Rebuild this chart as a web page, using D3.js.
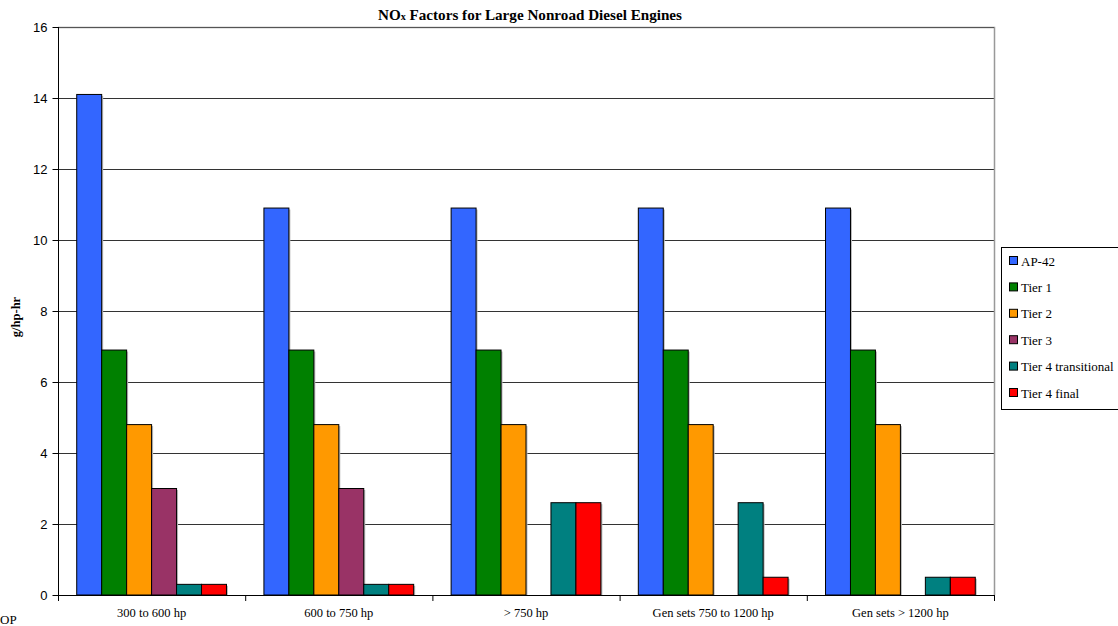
<!DOCTYPE html>
<html>
<head>
<meta charset="utf-8">
<script src="https://cdn.jsdelivr.net/npm/d3@7"></script>
<style>
  body { margin: 0; background: #fff; }
  svg { display: block; }
</style>
</head>
<body>
<svg id="chart" width="1118" height="626"></svg>
<script>
// Engine size classes along the x axis
const categories = ["300 to 600 hp", "600 to 750 hp", "> 750 hp", "Gen sets 750 to 1200 hp", "Gen sets > 1200 hp"];
// Emission standard series (null = no standard for that class)
const seriesNames = ["AP-42", "Tier 1", "Tier 2", "Tier 3", "Tier 4 transitional", "Tier 4 final"];
const ap42      = [14.1, 10.9, 10.9, 10.9, 10.9];
const tier1     = [6.9, 6.9, 6.9, 6.9, 6.9];
const tier2     = [4.8, 4.8, 4.8, 4.8, 4.8];
const tier3     = [3.0, 3.0, null, null, null];
const tier4t    = [0.3, 0.3, 2.6, 2.6, 0.5];
const tier4f    = [0.3, 0.3, 2.6, 0.5, 0.5];
const yTicks    = [0, 2, 4, 6, 8, 10, 12, 14, 16];
const colors    = ["#3366FF", "#008000", "#FF9900", "#993366", "#008080", "#FF0000"];

const seriesValues = [ap42, tier1, tier2, tier3, tier4t, tier4f];

const svg = d3.select("#chart");
const plot = { left: 58, right: 994, top: 27, bottom: 595 };
const serif = "'Times New Roman', 'Liberation Serif', serif";

const x = d3.scaleBand().domain(categories).range([plot.left, plot.right]);
// Excel-style gap: 150% of one bar width split either side of the group
const barW = x.bandwidth() / 7.5;
const xInner = d3.scaleBand().domain(seriesNames)
  .range([barW * 0.75, x.bandwidth() - barW * 0.75]);

const y = d3.scaleLinear().domain([0, 16]).range([plot.bottom, plot.top]);

// Horizontal gridlines
svg.append("g")
  .selectAll("line")
  .data(yTicks.filter(d => d > 0 && d < 16))
  .join("line")
  .attr("x1", plot.left).attr("x2", plot.right)
  .attr("y1", d => y(d) + 0.5).attr("y2", d => y(d) + 0.5)
  .attr("stroke", "#333").attr("stroke-width", 1);

// Plot frame top and right
svg.append("path")
  .attr("d", `M${plot.left},${plot.top + 0.5}H${plot.right + 0.5}V${plot.bottom}`)
  .attr("fill", "none").attr("stroke", "#999").attr("stroke-width", 1.5);
svg.append("line")
  .attr("x1", plot.left).attr("x2", plot.right)
  .attr("y1", plot.top + 0.5).attr("y2", plot.top + 0.5)
  .attr("stroke", "#555").attr("stroke-width", 1);

// Bars
const groups = svg.append("g").selectAll("g")
  .data(categories)
  .join("g")
  .attr("transform", d => `translate(${x(d)},0)`);

groups.each(function(cat, ci) {
  const data = seriesNames.map((s, si) => ({ s, si, v: seriesValues[si][ci] }))
    .filter(d => d.v != null);
  const g = d3.select(this);
  // soft shadow
  g.selectAll("rect.shadow").data(data).join("rect")
    .attr("class", "shadow")
    .attr("x", d => xInner(d.s) + 1.5)
    .attr("y", d => y(d.v) + 1.5)
    .attr("width", xInner.bandwidth())
    .attr("height", d => y(0) - y(d.v) - 1.5)
    .attr("fill", "#bbb");
  g.selectAll("rect.bar").data(data).join("rect")
    .attr("class", "bar")
    .attr("x", d => xInner(d.s))
    .attr("y", d => y(d.v))
    .attr("width", xInner.bandwidth())
    .attr("height", d => y(0) - y(d.v))
    .attr("fill", d => colors[d.si])
    .attr("stroke", "#000").attr("stroke-width", 1);
});

// Y axis
const yAxis = svg.append("g")
  .attr("transform", `translate(${plot.left + 0.5},0)`)
  .call(d3.axisLeft(y).tickValues(yTicks).tickSize(6).tickPadding(5).tickFormat(d3.format("d")));
yAxis.select(".domain").attr("stroke", "#000").attr("d", `M0,${plot.top}V${plot.bottom}`);
yAxis.selectAll(".tick line").attr("stroke", "#000");
yAxis.selectAll("text")
  .attr("font-family", "Arial, 'Liberation Sans', sans-serif")
  .attr("font-size", 13).attr("fill", "#000");

// X axis
const xAxis = svg.append("g")
  .attr("transform", `translate(0,${plot.bottom + 0.5})`)
  .call(d3.axisBottom(x).tickSize(0).tickPadding(13));
xAxis.select(".domain").attr("stroke", "#000").attr("d", `M${plot.left},0H${plot.right}`);
xAxis.selectAll("text")
  .attr("font-family", serif)
  .attr("font-size", 12.5).attr("fill", "#000");
// category boundary ticks
svg.append("g").selectAll("line")
  .data(categories.concat(["__end"]))
  .join("line")
  .attr("x1", d => (d === "__end" ? plot.right : x(d)) + 0.5)
  .attr("x2", d => (d === "__end" ? plot.right : x(d)) + 0.5)
  .attr("y1", plot.bottom).attr("y2", plot.bottom + 6)
  .attr("stroke", "#000");

// Y axis title
svg.append("text")
  .attr("transform", `translate(20,${(plot.top + plot.bottom) / 2 + 6}) rotate(-90)`)
  .attr("text-anchor", "middle")
  .attr("font-family", serif)
  .attr("font-weight", "bold").attr("font-size", 12.5)
  .text("g/hp-hr");

// Chart title
const title = svg.append("text")
  .attr("x", 378).attr("y", 20)
  .attr("font-family", serif)
  .attr("font-weight", "bold").attr("font-size", 15)
  .attr("textLength", 304).attr("lengthAdjust", "spacingAndGlyphs");
title.append("tspan").text("NO");
title.append("tspan").attr("font-size", 10).text("x");
title.append("tspan").text(" Factors for Large Nonroad Diesel Engines");

// Legend
const legend = svg.append("g").attr("transform", "translate(1001,247)");
legend.append("rect")
  .attr("x", 0.5).attr("y", 0.5).attr("width", 125).attr("height", 162)
  .attr("fill", "#fff").attr("stroke", "#000");
const items = legend.selectAll("g.item").data(seriesNames).join("g")
  .attr("class", "item")
  .attr("transform", (d, i) => `translate(8,${14 + i * 26.4})`);
items.append("rect")
  .attr("x", 0.5).attr("y", -4.5).attr("width", 8).attr("height", 8)
  .attr("fill", (d, i) => colors[i]).attr("stroke", "#000");
items.append("text")
  .attr("x", 12).attr("y", 4.5)
  .attr("font-family", serif)
  .attr("font-size", 13)
  .text(d => d);

// Stray page text below the chart
svg.append("text")
  .attr("x", 0).attr("y", 624)
  .attr("font-family", serif)
  .attr("font-size", 13)
  .text("OP");
</script>
</body>
</html>
